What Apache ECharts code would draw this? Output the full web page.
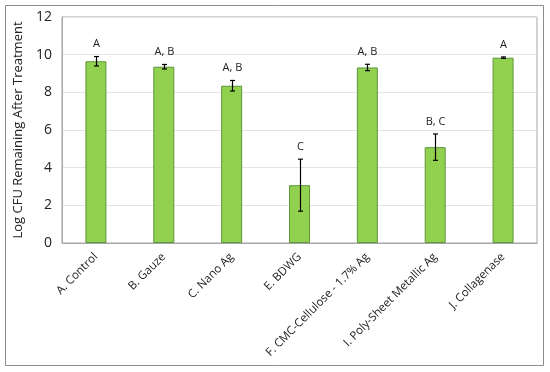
<!DOCTYPE html>
<html>
<head>
<meta charset="utf-8">
<script src="https://cdn.jsdelivr.net/npm/echarts@6/dist/echarts.min.js"></script>
<style>html,body{margin:0;padding:0;background:#fff}#c{width:550px;height:372px}</style>
</head>
<body>
<div id="c"></div>
<script>
var categories = ["A. Control", "B. Gauze", "C. Nano Ag", "E. BDWG", "F. CMC-Cellulose - 1.7% Ag", "I. Poly-Sheet Metallic Ag", "J. Collagenase"];
var values = [9.65, 9.36, 8.35, 3.07, 9.32, 5.09, 9.84];
var errors = [0.25, 0.12, 0.28, 1.38, 0.17, 0.70, 0.04];
var letters = ["A", "A, B", "A, B", "C", "A, B", "B, C", "A"];
var yTicks = [0, 2, 4, 6, 8, 10, 12];

var FONT = "'Open Sans', 'Noto Sans', sans-serif";
var chart = echarts.init(document.getElementById('c'), null, {renderer: 'canvas'});
var errData = values.map(function (v, i) { return [i, v, errors[i], letters[i]]; });

chart.setOption({
  animation: false,
  graphic: [{
    type: 'rect', shape: {x: 5.5, y: 5.5, width: 538, height: 360},
    style: {fill: 'none', stroke: '#8c8c8c', lineWidth: 1}, silent: true, z: -1
  }],
  grid: {left: 62, right: 13, top: 17, bottom: 129, show: true, borderColor: '#a6a6a6', borderWidth: 1, backgroundColor: 'transparent'},
  xAxis: {
    type: 'category', data: categories,
    axisLine: {lineStyle: {color: '#a6a6a6'}},
    axisTick: {show: false},
    axisLabel: {rotate: 45, fontSize: 11.5, color: '#222', fontFamily: FONT, margin: 12, interval: 0}
  },
  yAxis: {
    type: 'value', min: yTicks[0], max: yTicks[yTicks.length - 1], interval: 2,
    name: 'Log CFU Remaining After Treatment', nameLocation: 'middle', nameGap: 37,
    nameTextStyle: {fontSize: 13, color: '#222', fontFamily: FONT},
    axisLine: {show: true, lineStyle: {color: '#a6a6a6'}},
    axisTick: {show: false},
    axisLabel: {fontSize: 14, color: '#222', fontFamily: FONT, margin: 10},
    splitLine: {lineStyle: {color: '#e3e3e3'}}
  },
  series: [{
    type: 'bar', data: values, barWidth: 21,
    itemStyle: {color: '#92d050', borderColor: '#5e963a', borderWidth: 1}
  }, {
    type: 'custom', data: errData, z: 5,
    renderItem: function (params, api) {
      var x = api.value(0), v = api.value(1), e = api.value(2);
      var hi = api.coord([x, v + e]);
      var lo = api.coord([x, v - e]);
      var cx = Math.round(hi[0]) + 0.5;
      var w = 2.5;
      return {
        type: 'group',
        children: [
          {type: 'line', shape: {x1: cx, y1: hi[1], x2: cx, y2: lo[1]}, style: {stroke: '#000', lineWidth: 1.2}},
          {type: 'line', shape: {x1: cx - w, y1: hi[1], x2: cx + w, y2: hi[1]}, style: {stroke: '#000', lineWidth: 1.2}},
          {type: 'line', shape: {x1: cx - w, y1: lo[1], x2: cx + w, y2: lo[1]}, style: {stroke: '#000', lineWidth: 1.2}},
          {type: 'text', x: cx, y: hi[1] - 7, style: {text: letters[params.dataIndex], fill: '#222', font: '11px ' + FONT, textAlign: 'center', textVerticalAlign: 'bottom'}}
        ]
      };
    }
  }]
});
</script>
</body>
</html>
